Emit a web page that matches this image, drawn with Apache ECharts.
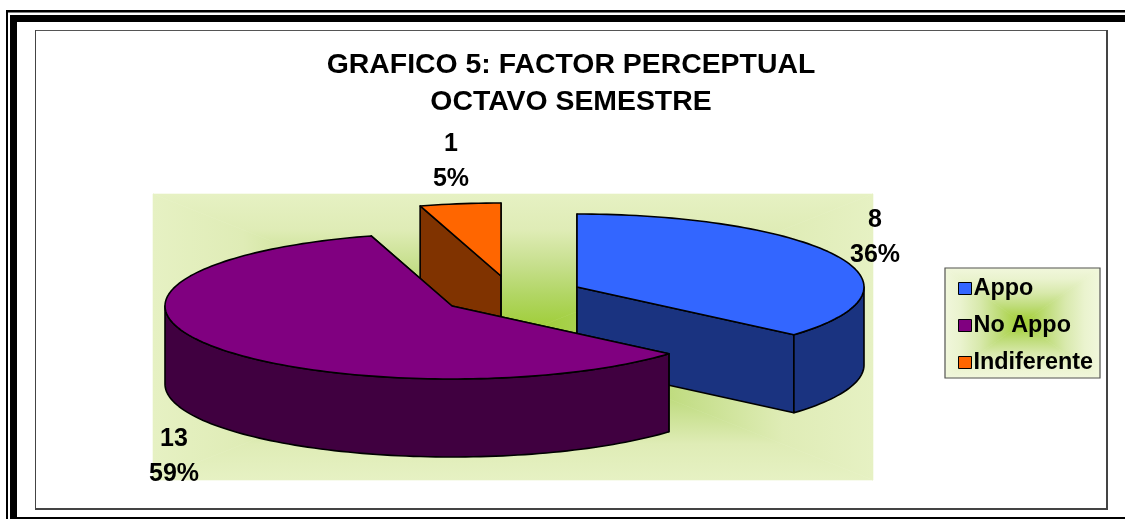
<!DOCTYPE html>
<html>
<head>
<meta charset="utf-8">
<style>html,body{margin:0;padding:0;background:#fff}#c{width:1125px;height:519px}</style>
<script src="https://cdn.jsdelivr.net/npm/echarts@6/dist/echarts.min.js"></script>
</head>
<body>
<div id="c"></div>
<script>
// ---- data ----
const categories = ['Appo', 'No Appo', 'Indiferente'];
const counts = [8, 13, 1];
const topColors = ['#3366FF', '#800080', '#FF6600'];
const sideColors = ['#1A3380', '#400040', '#803300'];
const titleLines = ['GRAFICO 5: FACTOR PERCEPTUAL', 'OCTAVO SEMESTRE'];

// ---- layout ----
const FONT = '"Liberation Sans", Arial, sans-serif';
const RX = 287, RY = 73, DEPTH = 78;
const sliceCenter = [[577, 287], [452, 306], [501, 276]];
const labelAt = [[875, 238], [174, 457], [451, 162]];
const sliceZ = [3, 4, 2];
const plotBox = {x: 153, y: 194, w: 720, h: 286};
const legendBox = {x: 945, y: 268, w: 155, h: 110};
const plotStops = [[0,'#9ACB2C'],[.3,'#B2D665'],[.5,'#C6DF8C'],[.75,'#DFECB6'],[1,'#E6F1C3']];
const legendStops = [[0,'#A0CD2E'],[.3,'#BEDC78'],[.55,'#D8E9AC'],[.8,'#EAF3CE'],[1,'#F1F7DC']];

const total = counts.reduce((a, b) => a + b, 0);
const startAngles = counts.map((_, i) => counts.slice(0, i).reduce((a, b) => a + b, 0) / total * 360);

function rim(c, deg, dy) {
  const r = deg * Math.PI / 180;
  return [c[0] + RX * Math.sin(r), c[1] - RY * Math.cos(r) + (dy || 0)];
}
function arc(c, a0, a1, dy) {
  const pts = [], n = Math.max(2, Math.ceil((a1 - a0) / 1.5));
  for (let i = 0; i <= n; i++) pts.push(rim(c, a0 + (a1 - a0) * i / n, dy));
  return pts;
}
function poly(points, fill, stroke, w) {
  return {type: 'polygon', shape: {points}, style: {fill, stroke: stroke || '#000', lineWidth: w || 1.6, lineJoin: 'round'}};
}
function renderSlice(idx) {
  return function (params, api) {
    const value = api.value(0);
    const a0 = startAngles[idx], a1 = a0 + value / total * 360;
    const c = sliceCenter[idx], top = topColors[idx], side = sideColors[idx];
    const below = [c[0], c[1] + DEPTH];
    const children = [];
    [a0, a1].forEach(a => {
      children.push(poly([c, rim(c, a), rim(c, a, DEPTH), below], side));
    });
    const w0 = Math.max(a0, 90), w1 = Math.min(a1, 270);
    if (w1 > w0) {
      children.push(poly(arc(c, w0, w1).concat(arc(c, w0, w1, DEPTH).reverse()), side));
    }
    children.push(poly([c].concat(arc(c, a0, a1)), top));
    children.push({
      type: 'text', z2: 50,
      style: {
        x: labelAt[idx][0], y: labelAt[idx][1], text: value + '\n' + Math.round(value / total * 100) + '%',
        fill: '#000', font: 'bold 25px ' + FONT, align: 'center', verticalAlign: 'middle', lineHeight: 35
      }
    });
    return {type: 'group', children};
  };
}
function pathGradient(box, stops, z) {
  const cx = box.x + box.w / 2, cy = box.y + box.h / 2;
  const TL = [box.x, box.y], TR = [box.x + box.w, box.y], BR = [box.x + box.w, box.y + box.h], BL = [box.x, box.y + box.h];
  const colorStops = stops.map(s => ({offset: s[0], color: s[1]}));
  const tri = (p, q, ex, ey) => {
    const g = {type: 'linear', global: true, x: cx, y: cy, x2: ex, y2: ey, colorStops};
    return {type: 'polygon', silent: true, z, shape: {points: [[cx, cy], p, q]}, style: {fill: g, stroke: g, lineWidth: 0.6}};
  };
  return [tri(TL, TR, cx, box.y), tri(TR, BR, box.x + box.w, cy), tri(BR, BL, cx, box.y + box.h), tri(BL, TL, box.x, cy)];
}
function bar(x, y, w, h, fill) {
  return {type: 'rect', silent: true, z: 1, shape: {x, y, width: w, height: h}, style: {fill}};
}

const chart = echarts.init(document.getElementById('c'), null, {renderer: 'canvas'});
chart.setOption({
  animation: false,
  backgroundColor: '#fff',
  title: {
    text: titleLines.join('\n'), left: 566, top: 42, textAlign: 'center',
    textStyle: {fontFamily: FONT, fontWeight: 'bold', fontSize: 28.4, lineHeight: 37, color: '#000'}
  },
  legend: {
    orient: 'vertical', left: 953, top: 272, data: categories, icon: 'rect',
    itemWidth: 13, itemHeight: 12, itemGap: 14,
    itemStyle: {borderColor: '#000', borderWidth: 1},
    textStyle: {fontFamily: FONT, fontWeight: 'bold', fontSize: 23.4, color: '#000', padding: [0, 0, 0, -3]}
  },
  graphic: {elements: [
    // page frame
    bar(6, 10, 1119, 2.5, '#000'), bar(6, 10, 2, 509, '#000'),
    bar(10, 15, 1115, 7, '#000'), bar(10, 15, 7, 504, '#000'),
    bar(17, 517, 1108, 2, '#000'),
    // chart frame
    bar(35, 30, 1072, 1, '#555'), bar(35, 30, 1, 479, '#444'),
    bar(1106, 30, 2, 480, '#444'), bar(35, 508, 1073, 2, '#444'),
    ...pathGradient(plotBox, plotStops, 2),
    ...pathGradient(legendBox, legendStops, 2),
    {type: 'rect', silent: true, z: 3, shape: {x: legendBox.x, y: legendBox.y, width: legendBox.w, height: legendBox.h},
      style: {fill: 'none', stroke: '#555', lineWidth: 1.2}}
  ]},
  series: categories.map((name, i) => ({
    type: 'custom', name, coordinateSystem: 'none', z: sliceZ[i],
    itemStyle: {color: topColors[i]},
    data: [[counts[i]]],
    renderItem: renderSlice(i),
    silent: true
  }))
});
</script>
</body>
</html>
